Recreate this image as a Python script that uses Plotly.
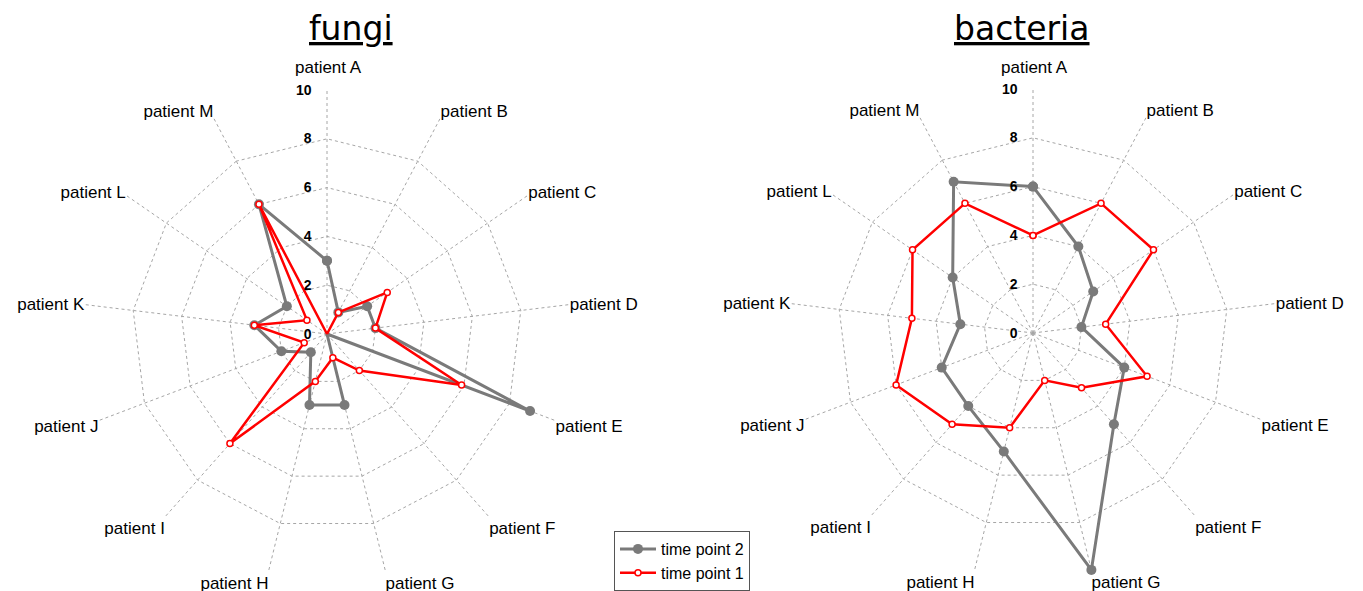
import plotly.graph_objects as go

categories = ["patient A", "patient B", "patient C", "patient D", "patient E", "patient F",
              "patient G", "patient H", "patient I", "patient J", "patient K", "patient L", "patient M"]

fungi_tp2 = [3, 1, 2, 2, 8.9, 0, 3, 3, 1, 2, 3, 2, 6]
fungi_tp1 = [0, 1, 3, 2, 5.9, 2, 1, 2, 6, 1, 3, 1, 6]
bacteria_tp2 = [6, 4, 3, 2, 4, 5, 10, 5, 4, 4, 3, 4, 7]
bacteria_tp1 = [4, 6, 6, 3, 5, 3, 2, 4, 5, 6, 5, 6, 6]

radial_ticks = [0, 2, 4, 6, 8, 10]
titles = ["fungi", "bacteria"]
series_names = ["time point 2", "time point 1"]

GREY = "#7a7a7a"
RED = "#ff0000"
GRID = "#a6a6a6"
LABEL_FONT = dict(family="Liberation Sans, Arial", size=17, color="black")

# page body has an 8px default margin; positions below are reference pixels minus it
OFF = 8
W, H = 1363, 591


def closed(v):
    return list(v) + [v[0]]


cats_closed = closed(categories)
# the top label sits a little higher in the reference; it is written as an annotation
angular_text = ["" if j == 0 else c for j, c in enumerate(categories)]

fig = go.Figure()

for i, (tp2, tp1) in enumerate([(fungi_tp2, fungi_tp1), (bacteria_tp2, bacteria_tp1)]):
    polar = "polar" if i == 0 else "polar2"
    fig.add_trace(go.Scatterpolar(
        r=closed(tp2), theta=cats_closed, mode="lines+markers", name=series_names[0],
        line=dict(color=GREY, width=3),
        marker=dict(color=GREY, size=10),
        subplot=polar, showlegend=(i == 0)))
    fig.add_trace(go.Scatterpolar(
        r=closed(tp1), theta=cats_closed, mode="lines+markers", name=series_names[1],
        line=dict(color=RED, width=2.5),
        marker=dict(color="white", size=6, line=dict(color=RED, width=1.5)),
        subplot=polar, showlegend=(i == 0)))


def polar_layout(cx, cy, rad):
    cx -= OFF
    cy -= OFF
    x0 = (cx - rad) / W
    x1 = (cx + rad) / W
    y0 = (H - (cy + rad)) / H
    y1 = (H - (cy - rad)) / H
    return dict(
        domain=dict(x=[x0, x1], y=[y0, y1]),
        gridshape="linear",
        bgcolor="white",
        radialaxis=dict(
            range=[0, 10], tickvals=radial_ticks, angle=90, side="counterclockwise",
            showline=False, ticks="outside", ticklen=10, tickcolor="rgba(0,0,0,0)",
            gridcolor=GRID, griddash="3px,3px", gridwidth=1,
            tickfont=dict(family="Liberation Sans, Arial", size=14, color="black", weight="bold"),
            tickangle=90,
        ),
        angularaxis=dict(
            direction="clockwise", rotation=90, showline=False, ticks="",
            tickmode="array", tickvals=categories, ticktext=angular_text,
            gridcolor=GRID, griddash="3px,3px", gridwidth=1,
            tickfont=LABEL_FONT,
        ),
    )


def paper_text(text, px, py, font):
    return dict(text=text, x=(px - OFF) / W, y=1 - (py - OFF) / H,
                xref="paper", yref="paper", xanchor="center", yanchor="middle",
                showarrow=False, font=font)


title_font = dict(family="DejaVu Sans", size=33, color="black")

fig.update_layout(
    width=W, height=H,
    margin=dict(l=0, r=0, t=0, b=0),
    paper_bgcolor="white", plot_bgcolor="white",
    polar=polar_layout(327, 334, 244),
    polar2=polar_layout(1033, 333, 244),
    legend=dict(
        x=(614 - OFF) / W, y=1 - (531 - OFF) / H, xanchor="left", yanchor="top",
        bordercolor="#555555", borderwidth=1, bgcolor="white",
        font=dict(family="Liberation Sans, Arial", size=16, color="black"),
        tracegroupgap=0, itemwidth=36,
    ),
    annotations=[
        paper_text("<u>" + titles[0] + "</u>", 351, 28, title_font),
        paper_text("<u>" + titles[1] + "</u>", 1022, 28, title_font),
        paper_text(categories[0], 328, 68, LABEL_FONT),
        paper_text(categories[0], 1034, 67, LABEL_FONT),
    ],
)

fig.write_html("out.html")
